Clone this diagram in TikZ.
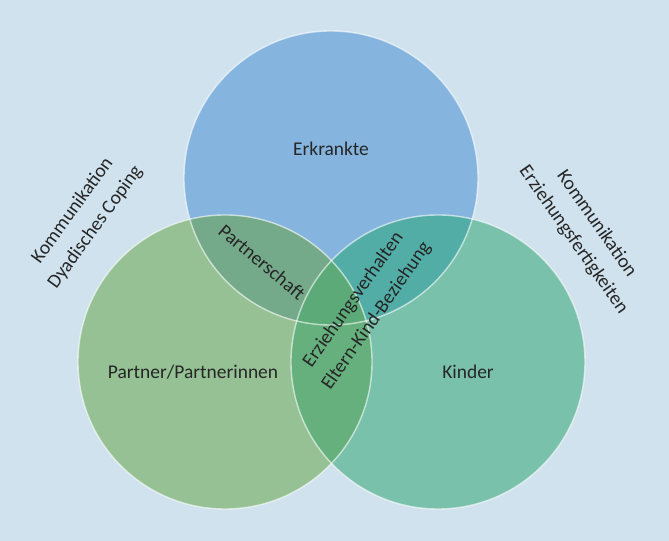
\documentclass[tikz,border=0pt]{standalone}
\usepackage{fontspec}
\setmainfont{Carlito}
\begin{document}
\begin{tikzpicture}[x=0.03cm,y=-0.03cm,
  lbl/.style={font=\fontsize{16.6}{24}\selectfont, text=black!85, align=center, inner sep=0pt},
  rim/.style={draw=white, draw opacity=0.6, line width=1.2pt}]
\definecolor{bg}{HTML}{D0E2EE}
\definecolor{cblue}{HTML}{85B5DF}
\definecolor{cgreen}{HTML}{96C195}
\definecolor{cteal}{HTML}{7AC1AC}
\definecolor{ltl}{HTML}{74A98A}
\definecolor{ltr}{HTML}{52ADA6}
\definecolor{lbot}{HTML}{65B07D}
\definecolor{lctr}{HTML}{5BAA78}
\def\R{4.41cm}
\fill[bg] (0,0) rectangle (669,541);
\useasboundingbox (0,0) rectangle (669,541);
\coordinate (T) at (331,178);
\coordinate (L) at (225,362);
\coordinate (Rr) at (438,362);
\fill[cblue] (T) circle[radius=\R];
\fill[cgreen] (L) circle[radius=\R];
\fill[cteal] (Rr) circle[radius=\R];
\begin{scope}
  \clip (T) circle[radius=\R];
  \fill[ltl] (L) circle[radius=\R];
  \fill[ltr] (Rr) circle[radius=\R];
\end{scope}
\begin{scope}
  \clip (L) circle[radius=\R];
  \fill[lbot] (Rr) circle[radius=\R];
  \clip (Rr) circle[radius=\R];
  \fill[lctr] (T) circle[radius=\R];
\end{scope}
\draw[rim] (T) circle[radius=\R];
\draw[rim] (L) circle[radius=\R];
\draw[rim] (Rr) circle[radius=\R];
\node[lbl] (erk) at (331,149) {Erkrankte};
\node[lbl] (pp) at (193,372) {Partner/Partnerinnen};
\node[lbl] (kin) at (468,372) {Kinder};
\node[lbl, rotate=-40] (ps) at (262,262) {Partnerschaft};
\node[lbl, rotate=55] (ev) at (365,308) {Erziehungsverhalten\\Eltern-Kind-Beziehung};
\node[lbl, rotate=54] (kl) at (84,219) {Kommunikation\\Dyadisches Coping};
\node[lbl, rotate=-55] (kr) at (585,232) {Kommunikation\\Erziehungsfertigkeiten};
\end{tikzpicture}
\end{document}
